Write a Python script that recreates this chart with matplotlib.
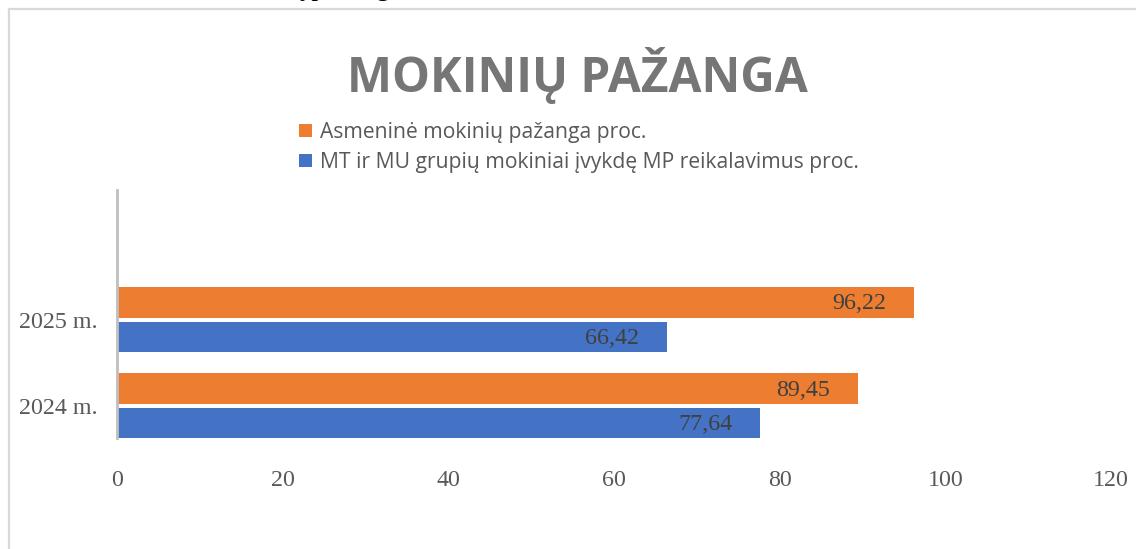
import matplotlib
matplotlib.use("Agg")
import matplotlib.pyplot as plt
from matplotlib.lines import Line2D

# ---- data ----
categories = ["2024 m.", "2025 m."]
series_names = ["Asmeninė mokinių pažanga proc.",
                "MT ir MU grupių mokiniai įvykdę MP reikalavimus proc."]
asmenine = [89.45, 96.22]
mt_mu = [77.64, 66.42]
x_ticks = [0, 20, 40, 60, 80, 100, 120]
title = "MOKINIŲ PAŽANGA"

orange = "#ED7D31"
blue = "#4472C4"

W, H = 1136, 549
fig = plt.figure(figsize=(W / 100, H / 100), dpi=100)
fig.patch.set_facecolor("white")

ax = fig.add_axes([117 / W, 1 - 438 / H, (1111 - 117) / W, (438 - 190) / H])
ypos = list(range(len(categories)))
h = 0.355
off = 0.2
b1 = ax.barh([y + off for y in ypos], asmenine, height=h, color=orange, label=series_names[0])
b2 = ax.barh([y - off for y in ypos], mt_mu, height=h, color=blue, label=series_names[1])

for bars, vals in ((b1, asmenine), (b2, mt_mu)):
    for bar, v in zip(bars, vals):
        ax.annotate(f"{v:.2f}".replace(".", ","),
                    xy=(bar.get_width(), bar.get_y() + bar.get_height() / 2),
                    xytext=(-20, -1), textcoords="offset points",
                    ha="right", va="center", fontsize=17.3,
                    family="Liberation Serif", color="#404040")

ax.set_xlim(0, 120)
ax.set_ylim(-0.37, 2.5)
ax.set_xticks(x_ticks)
ax.set_xticklabels([str(t) for t in x_ticks], family="Liberation Serif",
                   fontsize=17.3, color="#595959")
ax.set_yticks(ypos)
ax.set_yticklabels(categories, family="Liberation Serif", fontsize=17.3, color="#595959")
ax.tick_params(axis="x", length=0, pad=23)
ax.tick_params(axis="y", length=0, pad=14)
for s in ("top", "right", "bottom"):
    ax.spines[s].set_visible(False)
ax.spines["left"].set_color("#BFBFBF")
ax.spines["left"].set_linewidth(2)
ax.set_facecolor("white")

# title
fig.text(577 / W, 1 - 76 / H, title, ha="center", va="center",
         fontsize=34.4, fontweight="bold", family="Open Sans", color="#767676")

# legend
leg = fig.legend(handles=[b1, b2], labels=series_names, loc="upper left",
                 bbox_to_anchor=(299 / W, 1 - 122 / H), frameon=False,
                 handlelength=0.6, handleheight=0.6, handletextpad=0.4,
                 labelspacing=0.42, borderpad=0, borderaxespad=0,
                 prop={"family": "Open Sans", "size": 15.2})
for t in leg.get_texts():
    t.set_color("#595959")

# chart border (top and left)
fig.add_artist(Line2D([9 / W, 1], [1 - 9 / H, 1 - 9 / H], transform=fig.transFigure,
                      color="#D9D9D9", lw=1.6))
fig.add_artist(Line2D([9 / W, 9 / W], [0, 1 - 9 / H], transform=fig.transFigure,
                      color="#D9D9D9", lw=1.6))

# clipped text from above the chart
fig.text(292 / W, 1 + 5 / H, "ą pažanga", ha="left", va="baseline",
         fontsize=20, family="Liberation Serif", color="black")

fig.savefig("out.png", dpi=100, facecolor="white")
